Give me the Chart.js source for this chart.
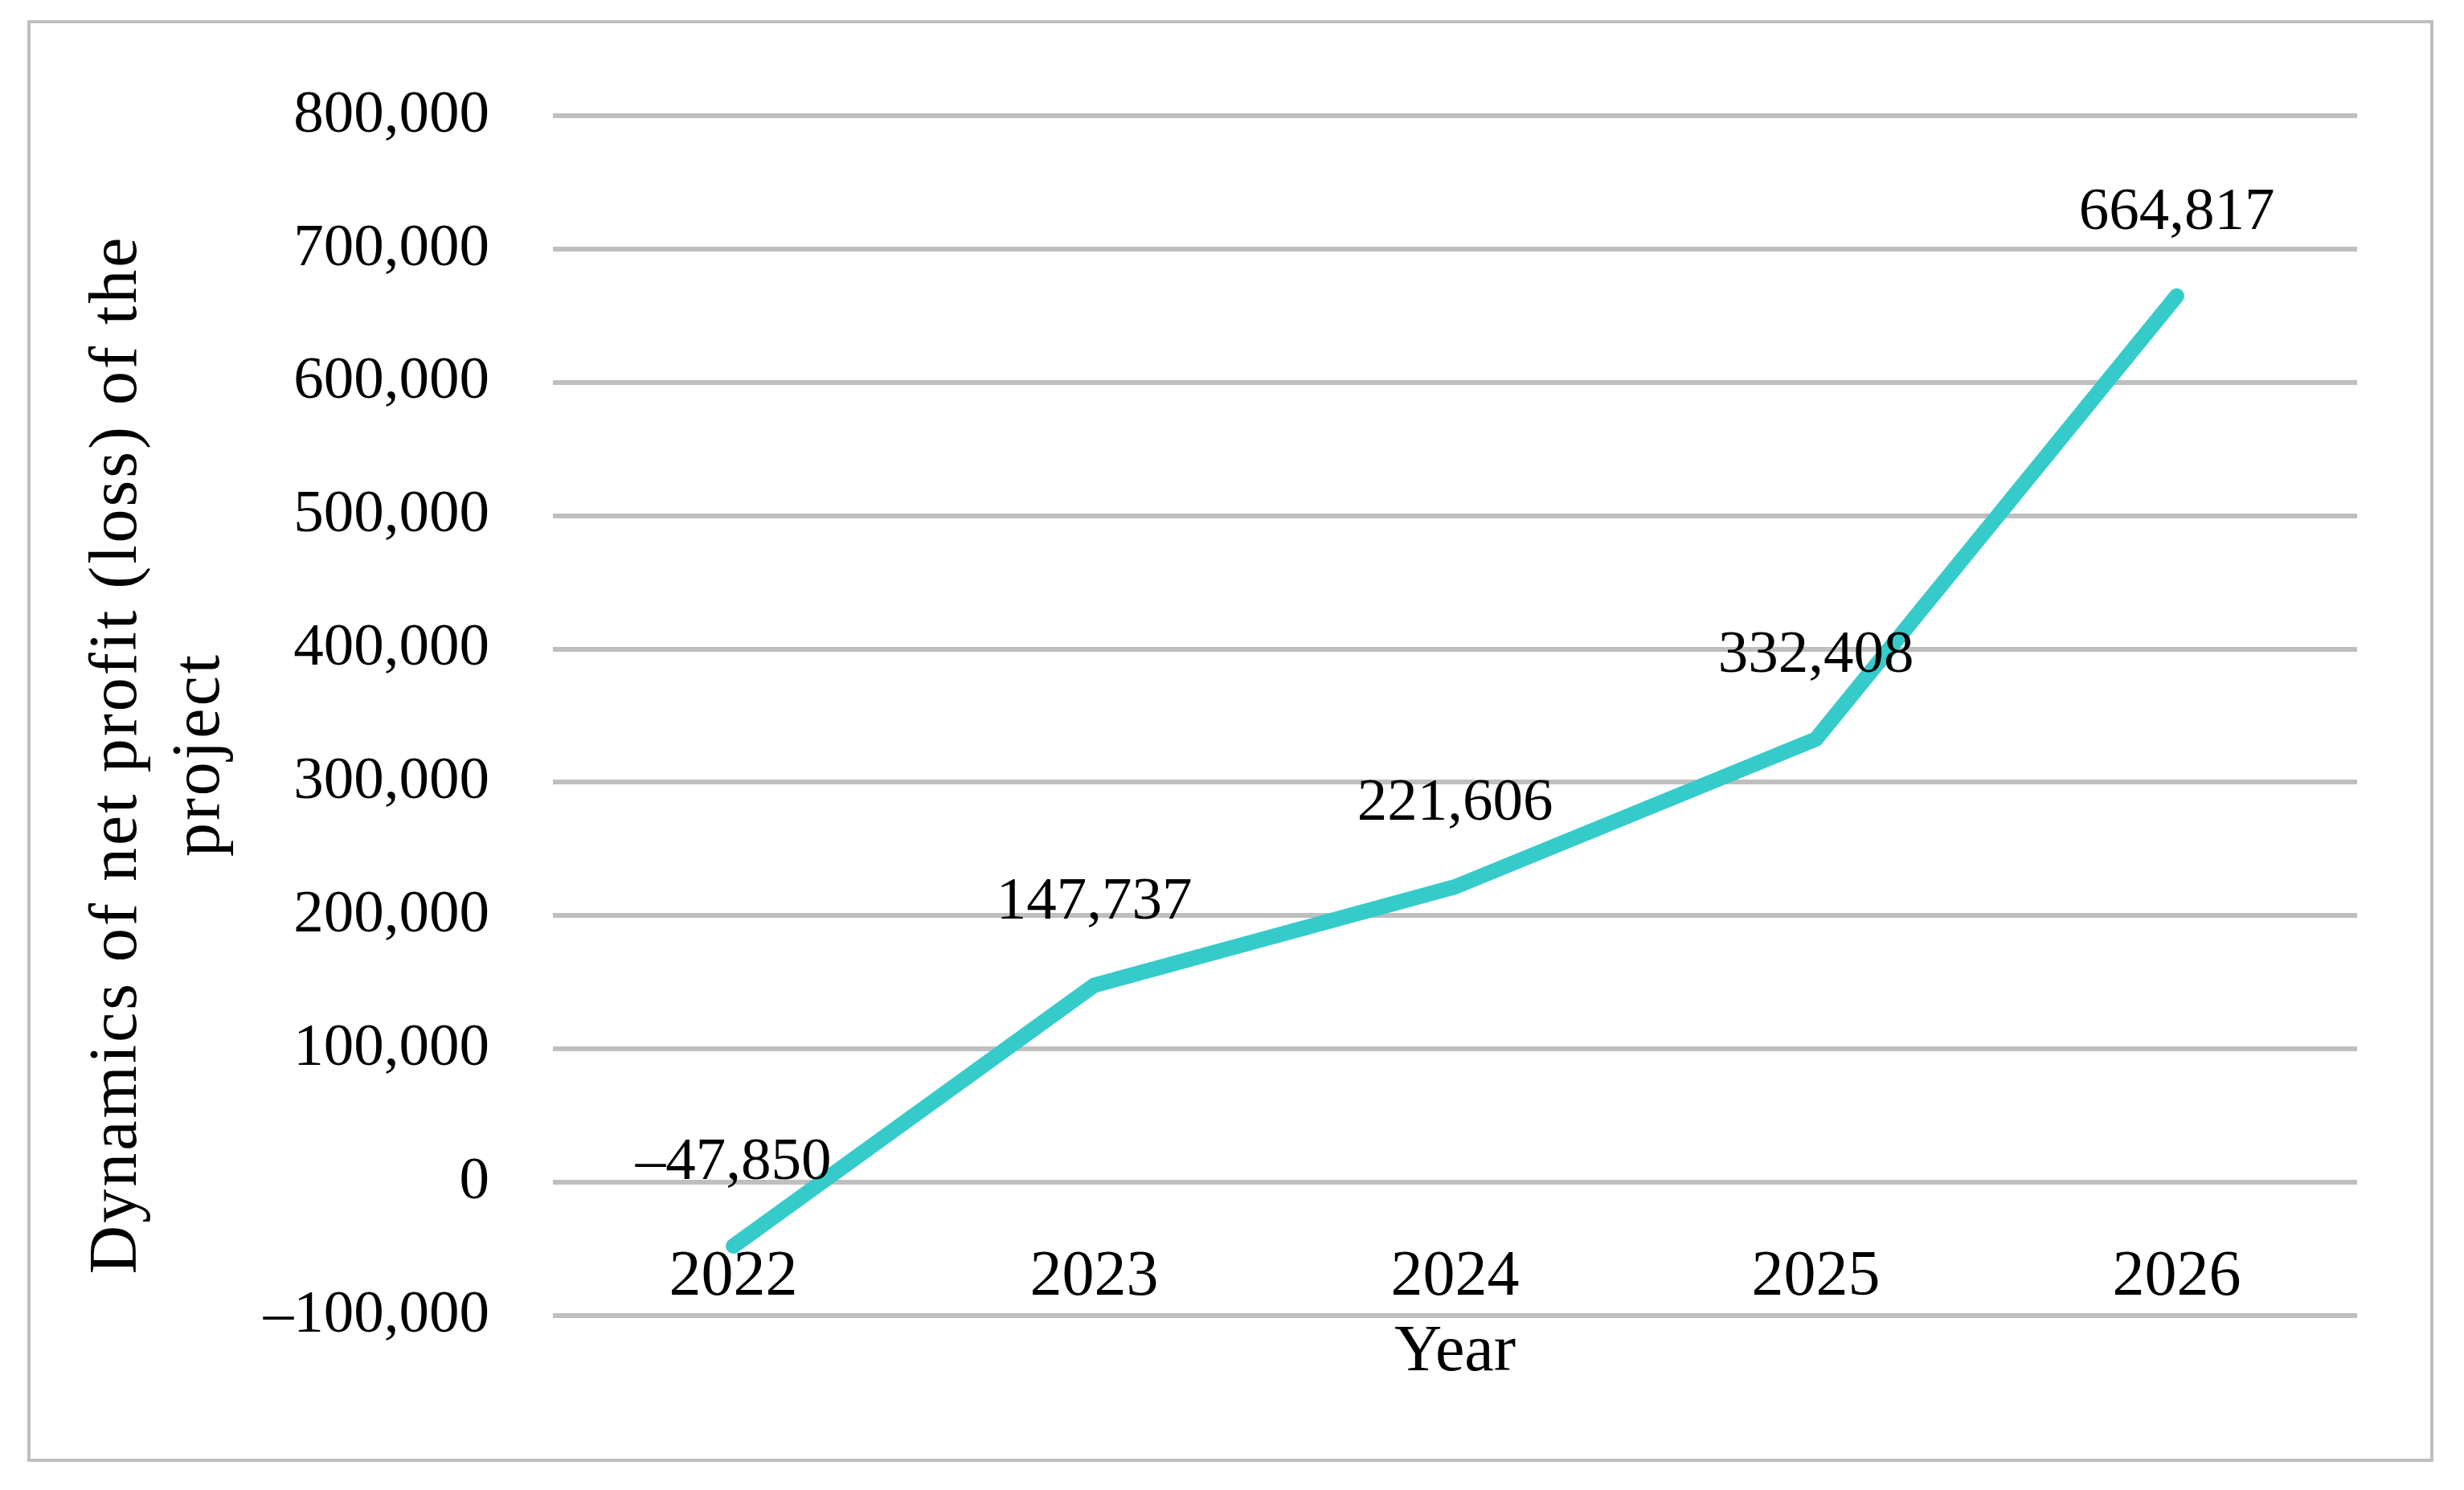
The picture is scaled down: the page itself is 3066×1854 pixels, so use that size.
<!DOCTYPE html>
<html lang="en">
<head>
  <meta charset="UTF-8">
  <title>Net profit dynamics</title>
  <script src="https://cdn.jsdelivr.net/npm/chart.js"></script>
  <style>
    html, body { margin: 0; padding: 0; background: #fff; }
    canvas { display: block; }
  </style>
</head>
<body>
  <canvas id="profitChart" width="3066" height="1854"></canvas>

  <script>
    const years = ['2022', '2023', '2024', '2025', '2026'];
    const netProfit = [-47850, 147737, 221606, 332408, 664817];
    const yMin = -100000, yMax = 800000, yStep = 100000;
    const yTitle = ['Dynamics of net profit (loss) of the', 'project'];
    const xTitle = 'Year';

    const FONT = 'Liberation Serif';
    const GRID = '#bfbfbf';

    function fmt(v) {
      const s = Math.abs(v).toLocaleString('en-US');
      return v < 0 ? '\u2013' + s : s;
    }

    // frame around the whole figure
    const framePlugin = {
      id: 'frame',
      beforeDraw(chart) {
        const ctx = chart.ctx;
        ctx.save();
        ctx.strokeStyle = GRID;
        ctx.lineWidth = 4;
        ctx.strokeRect(36, 27, 2990, 1790);
        ctx.restore();
      }
    };

    // category labels sit inside the plot, just above the lowest gridline
    const categoryPlugin = {
      id: 'categories',
      afterDraw(chart) {
        const ctx = chart.ctx;
        const x = chart.scales.x;
        ctx.save();
        ctx.fillStyle = '#000';
        ctx.font = '80px "' + FONT + '"';
        ctx.textAlign = 'center';
        ctx.textBaseline = 'middle';
        chart.data.labels.forEach((lab, i) => {
          ctx.fillText(lab, x.getPixelForValue(i), chart.chartArea.bottom - 47);
        });
        ctx.restore();
      }
    };

    // value labels above each point + rotated y-axis title
    const labelPlugin = {
      id: 'labels',
      afterDatasetsDraw(chart) {
        const ctx = chart.ctx;
        const meta = chart.getDatasetMeta(0);
        ctx.save();
        ctx.fillStyle = '#000';
        ctx.font = '75px "' + FONT + '"';
        ctx.textAlign = 'center';
        ctx.textBaseline = 'middle';
        meta.data.forEach((pt, i) => {
          ctx.fillText(fmt(netProfit[i]), pt.x, pt.y - 103);
        });

        // y-axis title, two lines
        ctx.font = '84px "' + FONT + '"';
        if ('letterSpacing' in ctx) ctx.letterSpacing = '3px';
        const xs = [147, 250];
        yTitle.forEach((line, i) => {
          ctx.save();
          ctx.translate(xs[i], 939);
          ctx.rotate(-Math.PI / 2);
          ctx.fillText(line, 0, 0);
          ctx.restore();
        });
        ctx.restore();
      }
    };

    const ctx = document.getElementById('profitChart').getContext('2d');
    new Chart(ctx, {
      type: 'line',
      data: {
        labels: years,
        datasets: [{
          data: netProfit,
          borderColor: '#36cbcb',
          borderWidth: 19,
          borderCapStyle: 'round',
          borderJoinStyle: 'round',
          pointRadius: 0,
          tension: 0,
          fill: false
        }]
      },
      options: {
        responsive: false,
        animation: false,
        devicePixelRatio: 1,
        layout: { padding: { left: 40, right: 133, top: 144, bottom: 121 } },
        plugins: {
          legend: { display: false },
          tooltip: { enabled: false }
        },
        scales: {
          x: {
            offset: true,
            grid: { display: false, drawTicks: false },
            border: { display: false },
            ticks: { display: false },
            title: { display: true, text: xTitle, color: '#000', padding: 0, font: { family: FONT, size: 82 } },
            afterFit(s) { s.height = 96; }
          },
          y: {
            min: yMin,
            max: yMax,
            grid: { color: GRID, lineWidth: 6, drawTicks: false },
            border: { display: false },
            ticks: {
              stepSize: yStep,
              padding: 79,
              color: '#000',
              font: { family: FONT, size: 75 },
              callback: v => fmt(v)
            },
            afterFit(s) { s.width = 648; }
          }
        }
      },
      plugins: [framePlugin, categoryPlugin, labelPlugin]
    });
  </script>
</body>
</html>
